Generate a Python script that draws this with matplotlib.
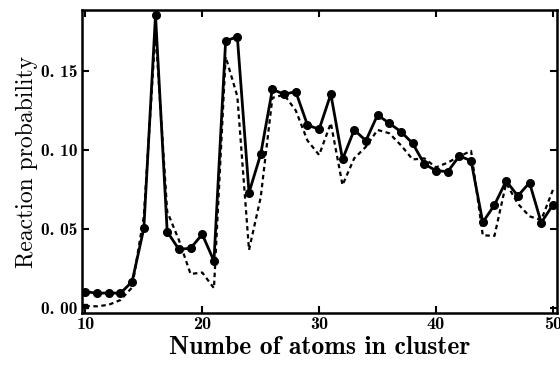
import matplotlib
matplotlib.use("Agg")
import matplotlib.pyplot as plt
import numpy as np

# cluster sizes
atoms = list(range(10, 51))

# measured reaction probability (solid line with dots)
measured = [0.0103, 0.0093, 0.0095, 0.0093, 0.0167, 0.0504, 0.1854, 0.0483, 0.0371, 0.0378,
            0.0466, 0.0297, 0.1690, 0.1717, 0.0730, 0.0973, 0.1384, 0.1353, 0.1369, 0.1158,
            0.1131, 0.1354, 0.0941, 0.1127, 0.1059, 0.1222, 0.1169, 0.1116, 0.1042, 0.0911,
            0.0869, 0.0863, 0.0962, 0.0932, 0.0542, 0.0652, 0.0804, 0.0709, 0.0793, 0.0540,
            0.0652]

# model curve (dashed line)
model = [0.0013, 0.0010, 0.0020, 0.0050, 0.0130, 0.0580, 0.1750, 0.0610, 0.0430, 0.0215,
         0.0224, 0.0125, 0.1590, 0.1340, 0.0367, 0.0700, 0.1330, 0.1350, 0.1250, 0.1060,
         0.0968, 0.1170, 0.0778, 0.0947, 0.1020, 0.1127, 0.1106, 0.1030, 0.0940, 0.0947,
         0.0890, 0.0920, 0.0960, 0.0994, 0.0460, 0.0456, 0.0790, 0.0660, 0.0580, 0.0557,
         0.0747]

x_ticks = [10, 20, 30, 40, 50]
y_ticks = [0.00, 0.05, 0.10, 0.15]
y_tick_labels = ["0. 00", "0. 05", "0. 10", "0. 15"]

bold_font = "cmb10"
roman_font = "cmr10"

fig = plt.figure(figsize=(5.6, 3.65), dpi=100)
ax = fig.add_axes([0.146, 0.1425, 0.848, 0.830])

ax.plot(atoms, model, color="black", lw=1.6, ls=(0, (2.0, 1.6)))
ax.plot(atoms[:1], model[:1], color="black", marker="s", ms=3, ls="none")
ax.plot(atoms, measured, color="black", lw=2.0, marker="o", ms=5.5)

ax.set_xlim(9.69, 50.32)
ax.set_ylim(-0.0032, 0.1886)

ax.set_xticks(x_ticks)
ax.set_xticklabels([str(t) for t in x_ticks], fontfamily=bold_font, fontsize=13)
ax.set_yticks(y_ticks)
ax.set_yticklabels(y_tick_labels, fontfamily=bold_font, fontsize=12.5)
ax.tick_params(direction="in", length=5, width=1.5, top=True, right=True, pad=3)

for s in ax.spines.values():
    s.set_linewidth(1.8)

ax.set_xlabel("Numbe of atoms in cluster", fontfamily=bold_font, fontsize=18.5, labelpad=3)
ax.set_ylabel("Reaction probability", fontfamily=roman_font, fontsize=17, labelpad=2)

fig.savefig("out.png", dpi=100)
